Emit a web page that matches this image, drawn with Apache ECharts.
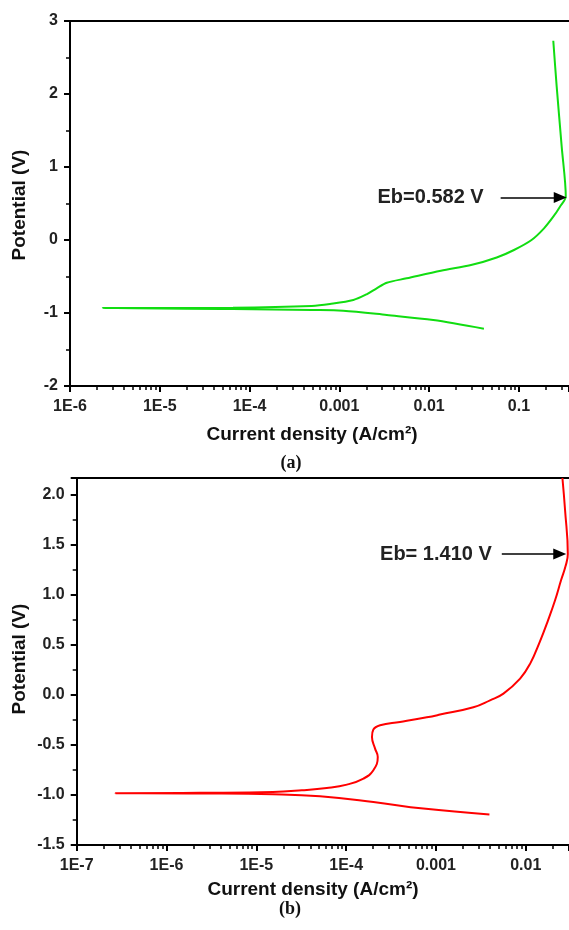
<!DOCTYPE html>
<html>
<head>
<meta charset="utf-8">
<script src="https://cdn.jsdelivr.net/npm/echarts@6/dist/echarts.min.js"></script>
<style>
  html, body { margin: 0; padding: 0; background: #fff; }
  #chart { width: 569px; height: 930px; }
</style>
</head>
<body>
<div id="chart"></div>
<script>
// (a) green polarization curve: current density (A/cm2) and potential (V), in sweep order
const currentA = [0.0407, 0.0111, 3.37e-3, 1.10e-3, 4.92e-4, 6.53e-5, 2.31e-6, 6.53e-5, 4.92e-4, 7.85e-4,
  1.43e-3, 2.01e-3, 2.60e-3, 3.37e-3, 5.61e-3, 0.0135, 0.030, 0.0565, 0.0880, 0.138,
  0.190, 0.241, 0.286, 0.332, 0.299, 0.263, 0.241];
const potentialA = [-1.215, -1.096, -1.027, -0.968, -0.959, -0.945, -0.932, -0.927, -0.904, -0.877,
  -0.822, -0.744, -0.662, -0.585, -0.525, -0.420, -0.340, -0.240, -0.137, 0.0,
  0.160, 0.319, 0.456, 0.595, 1.278, 2.100, 2.730];

// (b) red polarization curve
const currentB = [0.00394, 7.24e-4, 2.01e-4, 5.12e-5, 1.53e-5, 2.36e-6, 2.7e-7, 2.36e-6, 1.53e-5, 3.21e-5,
  6.08e-5, 1.02e-4, 1.56e-4, 2.01e-4, 2.25e-4, 2.10e-4, 1.94e-4, 2.01e-4, 2.39e-4, 3.98e-4,
  7.91e-4, 1.11e-3, 2.61e-3, 4.00e-3, 5.64e-3, 8.65e-3, 0.0112, 0.0144, 0.0177, 0.0212,
  0.0247, 0.0277, 0.0294, 0.0274, 0.0256];
const potentialB = [-1.196, -1.136, -1.070, -1.013, -0.993, -0.985, -0.982, -0.978, -0.970, -0.953,
  -0.930, -0.896, -0.836, -0.753, -0.620, -0.536, -0.420, -0.346, -0.303, -0.270,
  -0.223, -0.196, -0.123, -0.053, 0.014, 0.164, 0.314, 0.537, 0.747, 0.947,
  1.147, 1.287, 1.41, 1.847, 2.17];

// tick labels
const xTicksA = ['1E-6', '1E-5', '1E-4', '0.001', '0.01', '0.1'];
const xTicksB = ['1E-7', '1E-6', '1E-5', '1E-4', '0.001', '0.01'];
const yTicksA = ['-2', '-1', '0', '1', '2', '3'];
const yTicksB = ['-1.5', '-1.0', '-0.5', '0.0', '0.5', '1.0', '1.5', '2.0'];

// breakdown potential annotations: [arrow start current, arrow head current], potential, label
const ebArrowA = [0.0625, 0.288];
const ebA = 0.582;
const ebLabelA = 'Eb=0.582 V';
const ebArrowB = [0.00541, 0.0239];
const ebB = 1.41;
const ebLabelB = 'Eb= 1.410 V';

const font = 'Arial, "Liberation Sans", sans-serif';

function pairs(xs, ys) {
  return xs.map((x, i) => [x, ys[i]]);
}

function xAxisFor(gridIndex, min, max, labels) {
  const minExp = Math.round(Math.log10(min));
  return {
    type: 'log', logBase: 10, gridIndex: gridIndex, min: min, max: max, interval: 1,
    axisLine: { onZero: false, lineStyle: { color: '#000', width: 2 } },
    axisTick: { show: true, length: 6, lineStyle: { color: '#000', width: 2 } },
    minorTick: { show: true, splitNumber: 9, length: 4, lineStyle: { color: '#000', width: 1.5 } },
    splitLine: { show: false },
    axisLabel: {
      color: '#222', fontFamily: font, fontWeight: 'bold', fontSize: 16, margin: 13,
      showMaxLabel: false,
      formatter: v => labels[Math.round(Math.log10(v)) - minExp] || ''
    }
  };
}

// plain top frame line of each panel
function topFrame(gridIndex, min, max) {
  return {
    type: 'log', logBase: 10, gridIndex: gridIndex, min: min, max: max, position: 'top',
    axisLine: { onZero: false, lineStyle: { color: '#000', width: 2 } },
    axisTick: { show: false }, axisLabel: { show: false }, splitLine: { show: false }
  };
}

function yAxisFor(gridIndex, min, max, interval, labels) {
  return {
    type: 'value', gridIndex: gridIndex, min: min, max: max, interval: interval,
    axisLine: { show: true, onZero: false, lineStyle: { color: '#000', width: 2 } },
    axisTick: { show: true, length: 6, lineStyle: { color: '#000', width: 2 } },
    minorTick: { show: true, splitNumber: 2, length: 4, lineStyle: { color: '#000', width: 1.5 } },
    splitLine: { show: false },
    axisLabel: {
      color: '#222', fontFamily: font, fontWeight: 'bold', fontSize: 16, margin: 12,
      showMaxLabel: Math.abs((max - min) / interval - Math.round((max - min) / interval)) < 1e-6,
      formatter: v => labels[Math.round((v - min) / interval)]
    }
  };
}

function ebMarkLine(arrow, eb, label, gap) {
  return {
    silent: true,
    symbol: ['none', 'triangle'],
    symbolSize: [11, 13],
    lineStyle: { color: '#000', width: 1.5, type: 'solid' },
    label: {
      show: true, position: 'start', distance: gap, formatter: label,
      color: '#222', fontFamily: font, fontWeight: 'bold', fontSize: 20
    },
    emphasis: { disabled: true },
    data: [[{ coord: [arrow[0], eb] }, { coord: [arrow[1], eb] }]]
  };
}

function titleText(text, x, y, rotation, family, size) {
  return {
    type: 'text', x: x, y: y, rotation: rotation || 0,
    style: {
      text: text, fill: '#111', align: 'center', verticalAlign: 'middle',
      font: 'bold ' + size + 'px ' + family
    }
  };
}

// x ranges run to the right edge of each cropped panel
const xRangeA = [1e-6, 0.3606];
const xRangeB = [1e-7, 0.0303];

const chart = echarts.init(document.getElementById('chart'));
chart.setOption({
  animation: false,
  backgroundColor: '#fff',
  grid: [
    { left: 70, top: 21, right: 0, bottom: 544 },
    { left: 76.7, top: 478, right: 0, bottom: 85 }
  ],
  xAxis: [
    xAxisFor(0, xRangeA[0], xRangeA[1], xTicksA),
    xAxisFor(1, xRangeB[0], xRangeB[1], xTicksB),
    topFrame(0, xRangeA[0], xRangeA[1]),
    topFrame(1, xRangeB[0], xRangeB[1])
  ],
  yAxis: [
    yAxisFor(0, -2, 3, 1, yTicksA),
    yAxisFor(1, -1.5, 2.17, 0.5, yTicksB)
  ],
  series: [
    {
      type: 'line', xAxisIndex: 0, yAxisIndex: 0, data: pairs(currentA, potentialA),
      showSymbol: false, smooth: 0.3, lineStyle: { color: '#11dd11', width: 2 },
      markLine: ebMarkLine(ebArrowA, ebA, ebLabelA, 17)
    },
    {
      type: 'line', xAxisIndex: 1, yAxisIndex: 1, data: pairs(currentB, potentialB),
      showSymbol: false, smooth: 0.45, lineStyle: { color: '#ff0000', width: 2 },
      markLine: ebMarkLine(ebArrowB, ebB, ebLabelB, 10)
    }
  ],
  graphic: [
    titleText('Current density (A/cm²)', 312, 435, 0, font, 19),
    titleText('Potential (V)', 20, 205, Math.PI / 2, font, 19),
    titleText('(a)', 291, 463, 0, '"Liberation Serif", "Times New Roman", serif', 18),
    titleText('Current density (A/cm²)', 313, 890, 0, font, 19),
    titleText('Potential (V)', 20, 659, Math.PI / 2, font, 19),
    titleText('(b)', 290, 909, 0, '"Liberation Serif", "Times New Roman", serif', 18)
  ]
});
</script>
</body>
</html>
